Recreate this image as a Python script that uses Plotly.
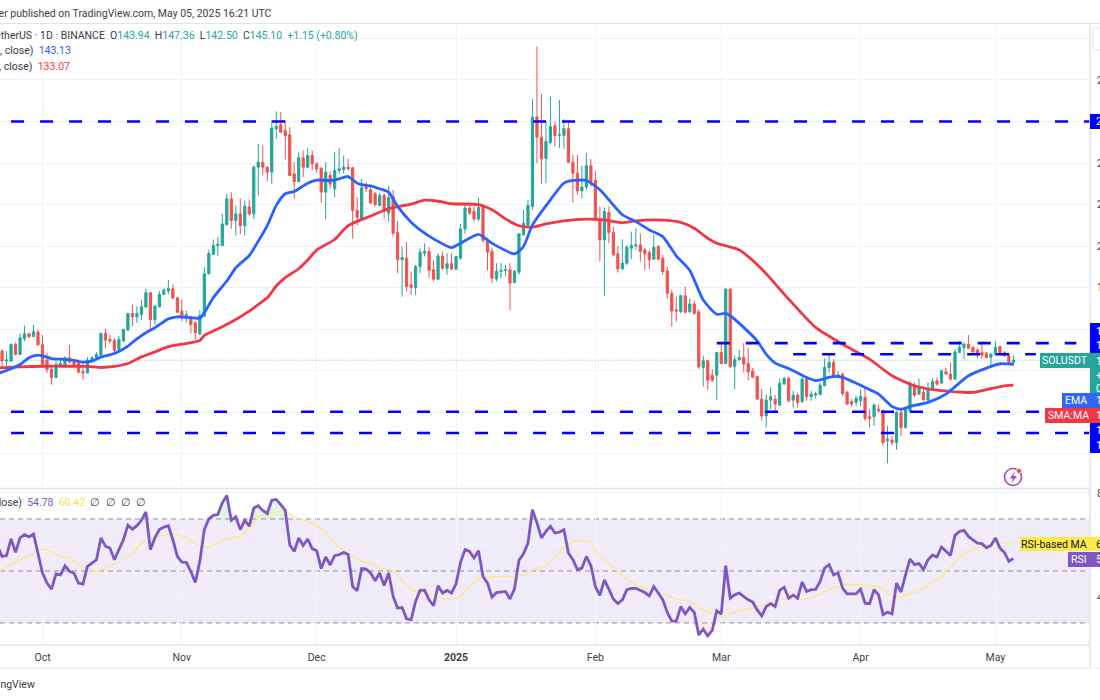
import numpy as np
import pandas as pd
import plotly.graph_objects as go

# Daily SOL/USDT candles, one row of values per calendar month, starting 21 Sep 2024
open_ = [
    146.5, 149.5, 144.7, 144.7, 152.7, 147.9, 155.4, 157.8, 156.5, 158.6,
    152.5, 145.1, 140.6, 136.8, 142.6, 142.6, 146.3, 144.2, 143.5, 139.8, 139.0, 144.7, 145.8, 147.4, 158.0, 155.1, 154.6, 150.3, 154.3, 159.6, 167.6, 166.0, 167.1, 170.7, 177.6, 164.7, 170.8, 176.8, 178.4, 179.5, 175.1,
    168.7, 166.3, 166.0, 163.1, 157.8, 166.3, 186.7, 196.0, 200.3, 200.3, 210.3, 222.8, 212.3, 215.5, 209.9, 218.8, 215.5, 238.0, 240.4, 238.0, 235.6, 256.5, 258.5, 255.6, 253.6, 234.8, 231.1, 242.5, 238.0, 243.6,
    239.6, 237.5, 226.0, 234.0, 227.6, 236.4, 236.9, 238.0, 237.7, 217.2, 213.1, 228.4, 227.1, 225.2, 219.6, 224.4, 215.9, 223.9, 206.6, 193.4, 194.2, 181.4, 180.1, 190.2, 196.6, 197.4, 188.6, 184.1, 195.3, 189.4, 191.5,
    188.9, 194.2, 208.2, 218.3, 216.7, 213.0, 218.6, 202.2, 197.4, 184.2, 187.8, 188.3, 188.6, 182.5, 187.5, 205.4, 210.2, 219.1, 262.1, 252.5, 242.3, 249.9, 257.9, 253.3, 253.3, 256.5, 240.4, 235.1, 226.6, 228.4, 238.7,
    231.6, 212.7, 203.0, 216.2, 206.7, 196.3, 189.1, 191.8, 199.0, 200.1, 200.6, 198.2, 196.9, 193.7, 199.8, 194.2, 188.1, 177.3, 169.3, 168.5, 176.1, 168.5, 172.2, 168.4, 141.6, 144.8, 137.9, 137.9,
    148.8, 143.5, 179.3, 142.1, 145.3, 146.4, 143.5, 139.8, 137.3, 126.4, 118.3, 125.9, 126.4, 123.5, 133.6, 136.3, 125.9, 128.3, 125.1, 136.0, 127.6, 128.3, 128.6, 132.8, 141.6, 144.0, 136.8, 138.4, 129.6, 125.2, 124.8,
    125.6, 127.2, 117.9, 117.9, 121.5, 120.7, 106.3, 106.6, 105.5, 119.9, 112.7, 120.7, 132.5, 128.8, 129.6, 125.9, 130.9, 135.2, 134.1, 139.5, 138.4, 136.0, 148.8, 151.2, 152.8, 151.2, 150.0, 148.8, 148.5, 146.4,
    147.7, 151.6, 148.8, 147.2, 143.94,
]
high = [
    148.5, 150.3, 149.5, 153.2, 153.5, 158.0, 161.8, 158.3, 162.0, 159.9,
    157.2, 148.7, 142.6, 144.7, 145.5, 147.0, 152.4, 145.5, 145.1, 144.7, 146.7, 147.0, 149.0, 158.3, 160.2, 157.5, 155.7, 156.7, 160.2, 167.9, 171.8, 171.1, 174.3, 179.5, 177.9, 171.9, 178.4, 180.0, 183.7, 181.6, 175.6,
    174.3, 169.0, 166.6, 163.9, 169.2, 189.9, 198.4, 203.2, 204.3, 215.5, 225.2, 226.0, 219.6, 222.8, 222.0, 222.4, 238.8, 249.2, 248.4, 238.3, 260.5, 264.8, 264.5, 260.5, 257.3, 240.4, 245.2, 246.0, 247.1, 246.0,
    240.4, 238.0, 240.4, 236.0, 245.2, 247.3, 243.6, 242.0, 238.0, 223.6, 232.4, 230.8, 228.7, 226.3, 225.5, 225.5, 229.0, 227.1, 212.2, 199.8, 201.9, 187.8, 191.0, 199.0, 201.4, 199.5, 193.4, 196.6, 197.4, 196.6, 196.6,
    195.3, 210.6, 219.9, 219.1, 219.1, 223.4, 219.9, 203.8, 199.0, 191.8, 191.8, 191.0, 191.8, 188.6, 206.2, 217.5, 222.3, 270.8, 296.1, 273.2, 260.0, 272.0, 260.0, 270.4, 261.1, 260.5, 243.9, 243.9, 238.7, 244.8, 241.9,
    236.4, 219.1, 218.6, 219.1, 209.4, 200.1, 203.3, 200.6, 207.0, 208.6, 206.2, 199.0, 198.2, 205.4, 200.6, 195.8, 190.2, 179.0, 175.7, 176.5, 180.6, 174.9, 173.8, 169.7, 147.2, 145.3, 140.8, 149.1,
    153.3, 179.8, 179.8, 147.5, 150.0, 153.3, 151.2, 141.4, 137.6, 131.2, 128.8, 132.0, 128.3, 136.0, 137.1, 137.1, 130.4, 129.2, 136.8, 137.3, 130.4, 129.9, 134.4, 145.9, 148.0, 145.6, 140.0, 139.2, 130.4, 126.4, 128.0,
    130.9, 132.0, 121.5, 124.3, 123.9, 121.5, 113.5, 108.7, 120.7, 121.5, 122.3, 135.2, 134.4, 136.3, 131.5, 134.4, 136.3, 136.8, 140.5, 141.4, 144.0, 150.4, 154.4, 153.6, 157.2, 152.0, 150.8, 153.6, 149.1, 148.5,
    154.1, 152.0, 149.6, 148.0, 147.36,
]
low = [
    145.0, 141.4, 141.4, 144.2, 147.5, 147.5, 154.3, 155.7, 156.4, 152.2,
    142.2, 139.0, 133.4, 136.5, 142.2, 141.9, 143.5, 142.2, 138.7, 135.8, 138.7, 144.3, 145.5, 147.0, 150.8, 153.2, 147.9, 150.0, 154.0, 159.3, 161.5, 163.1, 164.4, 170.3, 159.1, 162.3, 170.5, 176.4, 176.8, 174.7, 167.9,
    163.9, 163.1, 158.0, 155.1, 157.0, 166.0, 186.4, 195.7, 195.2, 200.0, 209.9, 208.3, 205.1, 205.9, 205.1, 214.7, 213.1, 224.4, 234.0, 231.1, 230.0, 251.6, 254.5, 241.7, 233.7, 222.8, 230.8, 233.2, 237.7, 236.4,
    235.6, 220.8, 213.0, 227.6, 223.6, 234.8, 234.8, 236.4, 203.5, 209.9, 212.8, 226.0, 220.4, 219.1, 219.1, 213.5, 211.9, 204.6, 187.0, 175.7, 178.1, 176.5, 176.5, 187.0, 195.0, 184.6, 183.0, 183.8, 188.6, 186.2, 188.6,
    188.6, 193.4, 205.9, 215.1, 211.9, 211.9, 201.7, 188.3, 182.2, 183.0, 184.6, 185.4, 169.0, 182.2, 186.2, 205.1, 209.9, 217.5, 239.9, 229.8, 230.3, 248.8, 248.0, 247.2, 246.7, 240.1, 221.0, 224.7, 223.1, 227.1, 228.7,
    211.9, 192.6, 176.1, 201.4, 195.0, 187.3, 188.6, 191.0, 193.7, 198.2, 192.6, 188.6, 188.9, 193.4, 193.4, 186.2, 174.9, 161.3, 163.7, 167.7, 167.7, 167.7, 166.9, 140.8, 132.5, 130.9, 134.4, 125.9,
    143.2, 143.2, 141.6, 131.2, 144.8, 139.2, 135.5, 136.3, 126.0, 115.9, 112.7, 121.5, 120.7, 123.1, 133.3, 124.8, 122.3, 122.3, 124.8, 125.6, 125.6, 126.7, 128.3, 132.5, 139.2, 136.3, 136.5, 128.0, 123.5, 122.8, 123.1,
    123.1, 115.9, 112.7, 113.5, 119.9, 103.9, 95.5, 104.2, 102.0, 108.7, 112.2, 119.9, 127.2, 128.3, 125.6, 125.6, 130.4, 132.8, 133.6, 137.9, 135.2, 135.7, 148.5, 145.6, 150.4, 148.5, 145.9, 145.6, 145.9, 141.9,
    147.2, 148.5, 146.9, 143.5, 142.50,
]
close = [
    149.5, 144.7, 145.2, 152.7, 147.9, 155.9, 157.8, 156.4, 158.8, 152.5,
    143.0, 140.6, 136.8, 143.0, 143.5, 146.3, 144.2, 143.0, 139.4, 139.0, 145.1, 146.3, 147.9, 158.0, 154.8, 154.3, 149.8, 155.1, 159.9, 167.6, 166.0, 167.6, 170.8, 177.6, 164.7, 171.1, 176.8, 178.8, 179.5, 175.0, 168.2,
    166.0, 167.0, 162.3, 158.3, 166.6, 186.7, 196.5, 200.3, 201.0, 210.7, 222.8, 212.3, 215.5, 209.9, 219.2, 215.5, 238.0, 240.4, 238.0, 235.6, 256.8, 257.6, 254.8, 253.2, 234.0, 231.1, 242.5, 238.0, 243.6, 239.6,
    237.2, 226.0, 235.6, 230.0, 236.4, 237.2, 238.0, 237.2, 217.2, 213.9, 228.1, 227.6, 220.7, 219.9, 224.4, 216.7, 223.4, 206.2, 193.4, 194.5, 180.6, 180.1, 190.2, 197.1, 197.4, 188.3, 184.1, 195.3, 189.4, 191.5, 188.9,
    195.0, 208.3, 218.3, 215.9, 213.0, 218.6, 202.7, 197.1, 184.6, 187.8, 188.3, 188.6, 182.2, 187.8, 205.9, 211.0, 219.6, 262.1, 252.5, 242.0, 250.4, 257.6, 253.1, 253.6, 256.5, 240.4, 235.1, 226.6, 228.4, 238.7, 231.1,
    212.7, 203.0, 216.7, 206.6, 195.8, 189.1, 191.8, 199.5, 200.3, 200.6, 197.4, 196.3, 193.4, 199.5, 193.7, 187.8, 177.3, 168.8, 168.8, 176.2, 168.2, 172.2, 167.7, 141.9, 144.8, 135.5, 135.5, 148.8,
    143.5, 179.3, 141.9, 145.3, 146.4, 143.2, 139.5, 137.0, 126.4, 118.3, 125.9, 127.5, 124.0, 133.9, 136.3, 125.6, 128.3, 124.8, 136.0, 127.6, 128.8, 128.9, 133.1, 141.6, 144.0, 136.8, 138.1, 129.1, 124.0, 124.0, 126.7,
    127.6, 117.2, 117.0, 123.5, 120.7, 105.5, 107.1, 105.5, 119.9, 112.7, 121.5, 133.6, 128.3, 131.5, 126.0, 131.2, 134.9, 133.6, 140.0, 138.5, 136.0, 149.1, 151.2, 152.8, 150.9, 149.1, 148.5, 147.5, 146.4, 148.0,
    151.2, 148.8, 147.2, 144.0, 145.10,
]

# RSI(14), one daily value per candle
rsi = [
    59.5, 55.6, 55.9, 62.3, 57.2, 62.7, 64.0, 63.1, 64.2, 56.3,
    49.2, 45.3, 43.0, 48.9, 48.5, 52.0, 49.8, 49.1, 45.3, 44.9, 51.8, 53.0, 54.3, 62.7, 59.5, 58.8, 54.3, 58.2, 62.0, 67.6, 66.1, 67.4, 69.5, 72.7, 58.2, 62.7, 65.9, 66.9, 67.4, 62.0, 55.6,
    53.4, 53.3, 49.8, 45.6, 53.7, 65.9, 70.0, 71.4, 71.7, 76.2, 79.0, 69.5, 70.8, 65.9, 69.5, 67.2, 74.2, 75.1, 73.3, 72.1, 77.2, 77.5, 75.5, 73.3, 60.1, 57.5, 62.7, 59.8, 62.3, 58.6,
    57.8, 50.9, 55.4, 52.3, 55.9, 56.3, 57.1, 56.3, 44.0, 42.4, 50.9, 50.7, 49.2, 46.2, 49.2, 44.4, 49.2, 40.2, 35.7, 35.9, 31.6, 31.2, 38.3, 42.5, 42.6, 38.9, 36.6, 44.3, 41.5, 42.5, 41.5,
    45.1, 53.3, 58.2, 57.5, 55.0, 57.8, 47.9, 45.3, 39.9, 41.7, 42.0, 42.1, 39.2, 43.1, 54.1, 56.6, 60.7, 73.6, 68.5, 62.7, 65.2, 67.2, 64.6, 64.9, 65.9, 56.9, 54.3, 50.5, 51.1, 55.6, 52.0,
    44.0, 40.6, 46.6, 43.0, 39.2, 37.4, 38.9, 42.8, 43.3, 43.3, 42.4, 41.7, 40.4, 44.0, 41.5, 38.9, 34.0, 30.7, 30.7, 36.3, 33.5, 35.9, 34.0, 25.4, 27.6, 25.0, 27.1, 34.7,
    33.4, 52.0, 39.5, 40.8, 41.5, 40.2, 38.9, 38.0, 35.0, 32.7, 36.3, 37.4, 36.3, 42.5, 43.7, 39.5, 40.7, 39.5, 45.7, 42.1, 42.8, 42.9, 46.0, 51.1, 52.4, 48.5, 49.2, 43.4, 41.2, 41.2, 41.2,
    43.0, 37.6, 37.4, 42.8, 40.8, 33.2, 34.1, 33.5, 45.3, 41.9, 48.5, 54.6, 52.4, 52.8, 50.5, 54.3, 56.1, 55.4, 59.2, 57.4, 56.0, 63.7, 65.2, 65.6, 63.3, 62.0, 60.7, 60.5, 58.9, 59.8,
    62.7, 58.8, 57.1, 53.7, 54.78,
]

# Moving averages on the price pane, read at selected dates
ema_dates = [
    "2024-09-21", "2024-09-24", "2024-09-26", "2024-09-28", "2024-09-30", "2024-10-01", "2024-10-03", "2024-10-06", "2024-10-08", "2024-10-10",
    "2024-10-12", "2024-10-14", "2024-10-17", "2024-10-20", "2024-10-22", "2024-10-24", "2024-10-26", "2024-10-29", "2024-10-31", "2024-11-03",
    "2024-11-05", "2024-11-06", "2024-11-08", "2024-11-11", "2024-11-13", "2024-11-16", "2024-11-18", "2024-11-20", "2024-11-22", "2024-11-24",
    "2024-11-26", "2024-11-29", "2024-12-01", "2024-12-04", "2024-12-06", "2024-12-08", "2024-12-10", "2024-12-12", "2024-12-13", "2024-12-15",
    "2024-12-17", "2024-12-19", "2024-12-22", "2024-12-24", "2024-12-27", "2024-12-31", "2025-01-02", "2025-01-06", "2025-01-09", "2025-01-14",
    "2025-01-16", "2025-01-18", "2025-01-22", "2025-01-25", "2025-01-27", "2025-01-30", "2025-02-02", "2025-02-04", "2025-02-07", "2025-02-10",
    "2025-02-13", "2025-02-16", "2025-02-19", "2025-02-22", "2025-02-25", "2025-02-28", "2025-03-02", "2025-03-03", "2025-03-06", "2025-03-09",
    "2025-03-11", "2025-03-13", "2025-03-16", "2025-03-20", "2025-03-22", "2025-03-26", "2025-03-28", "2025-04-02", "2025-04-05", "2025-04-08",
    "2025-04-10", "2025-04-12", "2025-04-16", "2025-04-20", "2025-04-25", "2025-04-29", "2025-05-02", "2025-05-05",
]
ema = [
    138.7, 141.0, 143.0, 146.3, 147.5, 147.2, 145.9, 145.5, 145.0, 144.2,
    144.7, 146.6, 148.3, 151.9, 155.4, 158.3, 160.7, 165.0, 166.0, 165.5,
    165.4, 167.9, 175.2, 183.2, 189.6, 195.5, 202.4, 209.9, 219.6, 225.2,
    226.3, 230.3, 231.8, 231.6, 232.4, 233.5, 230.3, 229.2, 229.0, 227.6,
    226.0, 219.1, 211.5, 207.8, 203.5, 199.3, 201.4, 205.7, 201.4, 196.3,
    199.8, 210.2, 222.3, 230.3, 231.6, 231.6, 227.1, 222.3, 215.1, 211.8,
    207.8, 204.6, 195.3, 188.3, 174.1, 167.2, 167.7, 166.5, 160.9, 154.4,
    148.0, 143.7, 141.1, 136.8, 135.3, 137.3, 136.8, 132.0, 128.8, 122.8,
    121.5, 122.8, 124.8, 128.8, 137.6, 141.3, 143.4, 143.13,
]
sma_dates = [
    "2024-09-21", "2024-09-26", "2024-10-01", "2024-10-06", "2024-10-11", "2024-10-14", "2024-10-17", "2024-10-20", "2024-10-23", "2024-10-26",
    "2024-10-29", "2024-11-01", "2024-11-05", "2024-11-06", "2024-11-10", "2024-11-13", "2024-11-16", "2024-11-18", "2024-11-20", "2024-11-22",
    "2024-11-24", "2024-11-27", "2024-11-29", "2024-12-01", "2024-12-05", "2024-12-08", "2024-12-13", "2024-12-17", "2024-12-22", "2024-12-25",
    "2024-12-28", "2024-12-31", "2025-01-06", "2025-01-09", "2025-01-12", "2025-01-15", "2025-01-18", "2025-01-21", "2025-01-25", "2025-01-30",
    "2025-02-03", "2025-02-07", "2025-02-10", "2025-02-16", "2025-02-20", "2025-02-23", "2025-02-26", "2025-02-28", "2025-03-05", "2025-03-10",
    "2025-03-16", "2025-03-22", "2025-03-28", "2025-04-03", "2025-04-08", "2025-04-13", "2025-04-17", "2025-04-22", "2025-04-26", "2025-04-29",
    "2025-05-03", "2025-05-05",
]
sma = [
    141.4, 141.9, 142.2, 142.2, 142.1, 141.6, 142.1, 143.5, 146.7, 149.1,
    151.6, 152.8, 154.6, 157.0, 161.2, 164.7, 168.7, 171.9, 175.1, 180.8,
    184.8, 189.1, 193.3, 198.1, 203.2, 209.9, 214.5, 218.0, 220.2, 222.1,
    221.6, 220.4, 220.0, 217.5, 213.1, 209.8, 209.1, 210.7, 212.2, 213.0,
    212.6, 211.2, 212.2, 212.5, 211.4, 208.6, 203.8, 201.4, 198.2, 189.0,
    174.5, 160.9, 152.8, 145.6, 137.6, 132.8, 130.9, 129.9, 129.6, 130.9,
    132.8, 133.07,
]

# RSI-based moving average, read at selected dates
rsi_ma_dates = [
    "2024-09-21", "2024-09-24", "2024-09-28", "2024-09-30", "2024-10-01", "2024-10-03", "2024-10-05", "2024-10-07", "2024-10-10", "2024-10-13",
    "2024-10-15", "2024-10-18", "2024-10-21", "2024-10-23", "2024-10-24", "2024-10-27", "2024-10-30", "2024-11-02", "2024-11-05", "2024-11-07",
    "2024-11-09", "2024-11-11", "2024-11-14", "2024-11-16", "2024-11-18", "2024-11-22", "2024-11-24", "2024-11-26", "2024-11-28", "2024-11-30",
    "2024-12-03", "2024-12-05", "2024-12-08", "2024-12-11", "2024-12-13", "2024-12-15", "2024-12-18", "2024-12-20", "2024-12-22", "2024-12-24",
    "2024-12-27", "2024-12-31", "2025-01-02", "2025-01-04", "2025-01-06", "2025-01-10", "2025-01-14", "2025-01-17", "2025-01-18", "2025-01-21",
    "2025-01-23", "2025-01-25", "2025-01-28", "2025-01-31", "2025-02-01", "2025-02-03", "2025-02-08", "2025-02-11", "2025-02-14", "2025-02-16",
    "2025-02-19", "2025-02-22", "2025-02-25", "2025-03-01", "2025-03-03", "2025-03-05", "2025-03-08", "2025-03-13", "2025-03-15", "2025-03-16",
    "2025-03-19", "2025-03-22", "2025-03-25", "2025-03-28", "2025-04-01", "2025-04-03", "2025-04-05", "2025-04-08", "2025-04-10", "2025-04-12",
    "2025-04-15", "2025-04-19", "2025-04-24", "2025-04-28", "2025-05-01", "2025-05-05",
]
rsi_ma = [
    49.4, 52.8, 55.6, 58.2, 58.4, 57.5, 55.4, 55.0, 51.5, 49.6,
    51.1, 53.4, 56.6, 60.7, 61.6, 63.3, 64.3, 62.7, 59.5, 59.2,
    60.7, 62.3, 63.3, 66.5, 71.0, 72.7, 73.0, 70.8, 69.7, 68.5,
    65.2, 60.7, 56.6, 53.7, 52.7, 51.1, 50.2, 46.6, 42.8, 42.1,
    40.2, 38.8, 40.2, 44.0, 47.1, 47.9, 47.8, 48.7, 50.5, 51.8,
    55.0, 59.5, 61.8, 61.0, 57.5, 54.3, 46.6, 44.0, 41.9, 41.2,
    39.2, 38.3, 35.0, 32.2, 33.5, 34.8, 35.7, 38.3, 39.5, 38.9,
    39.2, 40.2, 42.8, 44.7, 44.9, 44.2, 44.0, 40.2, 39.9, 41.2,
    43.4, 47.9, 56.9, 59.5, 61.1, 60.42,
]

# Horizontal support and resistance levels: price, first date, last date
level_prices = [260.0, 153.3, 148.0, 120.3, 110.1]
level_starts = ["2024-09-24", "2025-02-28", "2025-03-17", "2024-09-24", "2024-09-24"]
level_ends = ["2025-05-22", "2025-05-19", "2025-05-10", "2025-05-11", "2025-05-22"]

month_ticks = ["2024-10-01", "2024-11-01", "2024-12-01", "2025-01-01", "2025-02-01", "2025-03-01", "2025-04-01", "2025-05-01"]
month_labels = ["Oct", "Nov", "Dec", "<b>2025</b>", "Feb", "Mar", "Apr", "May"]
price_ticks = [100, 120, 140, 160, 180, 200, 220, 240, 260, 280, 300]
price_tick_labels = ["", "120", "140", "160", "180", "200", "220", "240", "260", "280", ""]
rsi_ticks = [40, 60, 80]

dates = pd.date_range("2024-09-21", periods=len(close), freq="D")

W, H = 1100, 700
GREEN, RED, BLUE, ORANGE_RED = "#26a69a", "#ef5350", "#2962ff", "#f23645"
PURPLE = "#7e57c2"
YELLOW = "#fde94b"
LEVEL = "#0000ff"
TEXT = "#131722"
GRID = "#f0f3fa"
BORDER = "#e0e3eb"
FONT = "Roboto, Liberation Sans, sans-serif"
SIZE = 10.5


def px(x):
    return x / W


def py(y):
    return 1 - y / H


fig = go.Figure()

# Overbought / oversold shading sits under the RSI line
rsi_arr = np.array(rsi)
for bound, clipped, tint in (
    (70, np.maximum(rsi_arr, 70), "rgba(76,175,80,0.16)"),
    (30, np.minimum(rsi_arr, 30), "rgba(242,54,69,0.10)"),
):
    fig.add_trace(go.Scatter(x=dates, y=np.full(len(dates), bound), yaxis="y2", mode="lines", line=dict(width=0), hoverinfo="skip"))
    fig.add_trace(go.Scatter(x=dates, y=clipped, yaxis="y2", mode="lines", line=dict(width=0), fill="tonexty", fillcolor=tint, hoverinfo="skip"))

fig.add_trace(go.Scatter(x=pd.to_datetime(rsi_ma_dates), y=rsi_ma, yaxis="y2", mode="lines", line=dict(color="#fde98a", width=1.4)))
fig.add_trace(go.Scatter(x=dates, y=rsi, yaxis="y2", mode="lines", line=dict(color=PURPLE, width=2.8)))

# Last close, dotted across the pane
fig.add_trace(go.Scatter(x=[dates[0], pd.Timestamp("2025-05-14")], y=[close[-1], close[-1]], mode="lines",
                         line=dict(color="rgba(38,166,154,0.65)", width=1, dash="1px,2px")))

fig.add_trace(go.Candlestick(
    x=dates, open=open_, high=high, low=low, close=close,
    increasing=dict(line=dict(color=GREEN, width=1), fillcolor=GREEN),
    decreasing=dict(line=dict(color=RED, width=1), fillcolor=RED),
    whiskerwidth=0,
))

fig.add_trace(go.Scatter(x=pd.to_datetime(sma_dates), y=sma, mode="lines", line=dict(color=ORANGE_RED, width=2.8, shape="spline", smoothing=0.6)))
fig.add_trace(go.Scatter(x=pd.to_datetime(ema_dates), y=ema, mode="lines", line=dict(color=BLUE, width=2.8, shape="spline", smoothing=0.6)))

for price, start, end in zip(level_prices, level_starts, level_ends):
    fig.add_trace(go.Scatter(x=[start, end], y=[price, price], mode="lines", line=dict(color=LEVEL, width=2.6, dash="13px,16px")))

shapes = []


def box(x0, y0, x1, y1, fill=None, line=None, width=0, layer="above"):
    shapes.append(dict(type="rect", xref="paper", yref="paper", x0=px(x0), x1=px(x1), y0=py(y0), y1=py(y1),
                       fillcolor=fill or "rgba(0,0,0,0)", line=dict(color=line or "rgba(0,0,0,0)", width=width), layer=layer))


def rule(x0, y0, x1, y1, color=BORDER, width=1):
    shapes.append(dict(type="line", xref="paper", yref="paper", x0=px(x0), x1=px(x1), y0=py(y0), y1=py(y1),
                       line=dict(color=color, width=width), layer="above"))


# RSI band and its three reference lines
shapes.append(dict(type="rect", xref="paper", yref="y2", x0=0, x1=px(1090), y0=30, y1=70,
                   fillcolor="rgba(126,87,194,0.12)", line=dict(width=0), layer="below"))
for lvl in (70, 50, 30):
    shapes.append(dict(type="line", xref="paper", yref="y2", x0=0, x1=px(1090), y0=lvl, y1=lvl,
                       line=dict(color="#8f919a", width=1, dash="5px,4px"), layer="below"))

# Pane and footer separators
rule(0, 23.5, 1100, 23.5)
rule(0, 488.5, 1090, 488.5, width=1.5)
rule(0, 645, 1090, 645, width=1.5)
rule(0, 668.5, 1100, 668.5, color="#eef0f5", width=1.5)
rule(1090, 24, 1090, 668, width=1.5)
box(1093, 28, 1106, 50, line=BORDER, width=1)

# Axis price chips, stacked so they do not overlap
box(1090, 114, 1100, 129, fill=LEVEL)
box(1090, 323, 1100, 353, fill=LEVEL)
box(1040, 353, 1090, 368, fill=GREEN)
box(1090, 353, 1100, 393, fill=GREEN)
box(1062, 393, 1100, 408, fill="#2f66f6")
box(1045, 408, 1100, 423, fill=ORANGE_RED)
box(1090, 423, 1100, 453, fill=LEVEL)
box(1020, 537, 1100, 551, fill=YELLOW)
box(1068, 552, 1100, 567, fill=PURPLE)

# Lightning badge in the price pane
shapes.append(dict(type="circle", xref="paper", yref="paper", x0=px(1004.5), x1=px(1021.5), y0=py(468.5), y1=py(485.5),
                   line=dict(color="#ab47bc", width=1.6), layer="above"))
bolt = [(1015.5, 471.5), (1009.5, 478.5), (1013, 478.5), (1011.5, 483), (1017, 476), (1013.5, 476)]
shapes.append(dict(type="path", xref="paper", yref="paper",
                   path="M " + " L ".join(f"{px(a):.5f},{py(b):.5f}" for a, b in bolt) + " Z",
                   fillcolor="#ab47bc", line=dict(width=0), layer="above"))
shapes.append(dict(type="circle", xref="paper", yref="paper", x0=px(1016.5), x1=px(1021.5), y0=py(468.5), y1=py(473.5),
                   fillcolor=ORANGE_RED, line=dict(color="white", width=0.8), layer="above"))

annotations = []


def label(x, y, text, color=TEXT, size=SIZE, anchor="left"):
    annotations.append(dict(xref="paper", yref="paper", x=px(x), y=py(y), text=text, showarrow=False,
                            xanchor=anchor, yanchor="middle", align=anchor, borderpad=0, borderwidth=0,
                            font=dict(family=FONT, size=size, color=color)))


def span(text, color):
    return f"<span style='color:{color}'>{text}</span>"


label(272, 13, "TradingView user published on TradingView.com, May 05, 2025 16:21 UTC", color="#3a3e4a", anchor="right")
label(358, 36,
      "Solana / TetherUS · 1D · BINANCE\u00a0\u00a0O" + span("143.94", GREEN) + "\u00a0\u00a0H" + span("147.36", GREEN)
      + "\u00a0\u00a0L" + span("142.50", GREEN) + "\u00a0\u00a0C" + span("145.10", GREEN) + "\u00a0\u00a0"
      + span("+1.15 (+0.80%)", GREEN), color="#3a3e4a", anchor="right")
label(71, 51, "EMA (20, close)\u00a0\u00a0" + span("143.13", BLUE), color="#3a3e4a", anchor="right")
label(70, 66, "MA (50, close)\u00a0\u00a0" + span("133.07", ORANGE_RED), color="#3a3e4a", anchor="right")
label(146, 502, "RSI (14, close)\u00a0\u00a0" + span("54.78", PURPLE) + "\u00a0\u00a0" + span("60.42", "#fbdf52")
      + "\u00a0\u00a0∅\u00a0\u00a0∅\u00a0\u00a0∅\u00a0\u00a0∅", color="#3a3e4a", anchor="right")
label(35, 684, "TradingView", color="#3a3e4a", anchor="right")

label(1065, 360.5, "SOLUSDT", color="white", anchor="center")
label(1076, 400.5, "EMA", color="white", anchor="center")
label(1068, 415.5, "SMA:MA", color="white", anchor="center")
label(1054, 544, "RSI-based MA", anchor="center")
label(1079, 559.5, "RSI", color="white", anchor="center")

chip_texts = [
    (122, "260.00", "white"), (331, "153.30", "white"), (346, "148.00", "white"),
    (361, "145.10", "white"), (375, "+1.15", "white"), (388, "0.80%", "white"),
    (400.5, "143.13", "white"), (415.5, "133.07", "white"),
    (430, "120.30", "white"), (445, "110.10", "white"),
    (544, "60.42", TEXT), (559.5, "54.78", "white"),
]
for y_pos, txt, col in chip_texts:
    label(1096, y_pos, txt, color=col)

fig.update_layout(
    width=W, height=H,
    margin=dict(l=0, r=0, t=0, b=0, autoexpand=False),
    paper_bgcolor="white", plot_bgcolor="rgba(0,0,0,0)",
    showlegend=False,
    font=dict(family=FONT, size=12, color=TEXT),
    shapes=shapes,
    annotations=annotations,
    xaxis=dict(
        domain=[0, px(1090)], anchor="y2", type="date",
        range=["2024-09-21 13:00", "2025-05-22 01:00"],
        rangeslider=dict(visible=False),
        tickmode="array", tickvals=month_ticks, ticktext=month_labels,
        ticks="", ticklabelstandoff=4, tickfont=dict(size=SIZE, color="#3a3e4a"),
        showgrid=True, gridcolor=GRID, gridwidth=1, zeroline=False, showline=False,
    ),
    yaxis=dict(
        domain=[py(488), py(24)], anchor="x", side="right",
        range=[83.6, 306.9],
        tickmode="array", tickvals=price_ticks, ticktext=price_tick_labels, ticks="", ticklabelstandoff=6,
        tickfont=dict(size=SIZE, color="#3a3e4a"),
        showgrid=True, gridcolor=GRID, gridwidth=1, zeroline=False, showline=False,
    ),
    yaxis2=dict(
        domain=[py(645), py(490)], anchor="x", side="right",
        range=[21.5, 81.15],
        tickmode="array", tickvals=rsi_ticks, ticks="", ticklabelstandoff=6,
        tickfont=dict(size=SIZE, color="#3a3e4a"),
        showgrid=True, gridcolor=GRID, gridwidth=1, zeroline=False, showline=False,
    ),
)

fig.write_html("out.html")
